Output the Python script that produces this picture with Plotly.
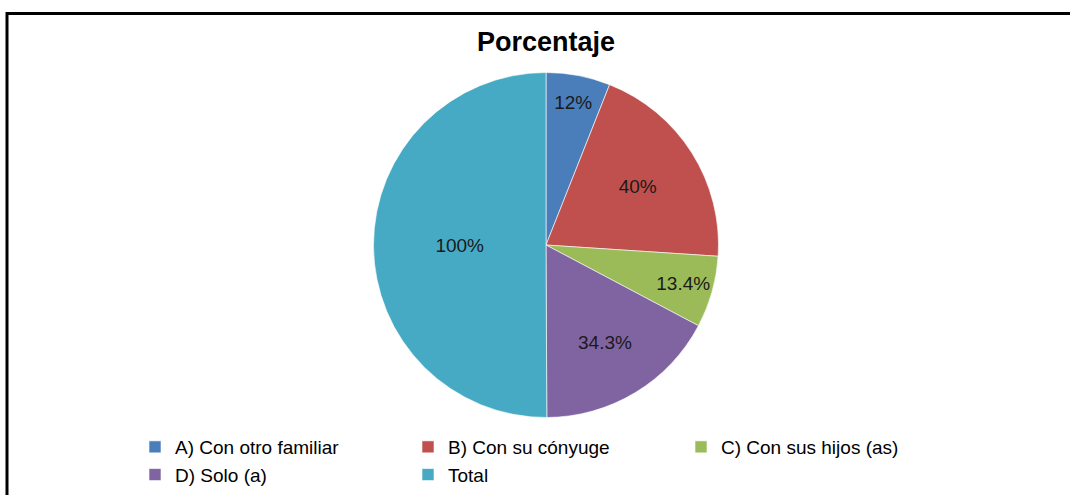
import plotly.graph_objects as go

labels = ["A) Con otro familiar", "B) Con su cónyuge", "C) Con sus hijos (as)", "D) Solo (a)", "Total"]
values = [12, 40, 13.4, 34.3, 100]
colors = ["#4A7EBB", "#C0504D", "#9BBB59", "#8064A2", "#46AAC5"]

W, H = 1070, 495
cx, cy, d = 546, 245, 345
FONT = "Liberation Sans, Arial, sans-serif"

fig = go.Figure(go.Pie(
    labels=labels,
    values=values,
    sort=False,
    direction="clockwise",
    rotation=0,
    marker=dict(colors=colors, line=dict(color="rgba(255,255,255,0.6)", width=1)),
    texttemplate="%{value}%",
    textposition="inside",
    insidetextorientation="horizontal",
    textfont=dict(family=FONT, size=19, color="#1a1a1a"),
    domain=dict(x=[(cx - d / 2) / W, (cx + d / 2) / W], y=[1 - (cy + d / 2) / H, 1 - (cy - d / 2) / H]),
    hoverinfo="label+value",
))

fig.update_layout(
    width=W, height=H,
    margin=dict(l=0, r=0, t=0, b=0),
    paper_bgcolor="white",
    plot_bgcolor="white",
    title=dict(text="<b>Porcentaje</b>", x=546 / W, xanchor="center", y=1 - 42 / H, yanchor="middle",
               font=dict(family=FONT, size=27, color="#000000")),
    legend=dict(orientation="h", x=135 / W, xanchor="left", y=1 - 428 / H, yanchor="top",
                font=dict(family=FONT, size=19, color="#000000"),
                entrywidth=228, entrywidthmode="pixels", traceorder="normal",
                bgcolor="rgba(0,0,0,0)"),
    shapes=[dict(type="rect", xref="paper", yref="paper",
                 x0=7 / W, x1=1.05, y0=-0.05, y1=1 - 13.5 / H,
                 line=dict(color="black", width=3), fillcolor="rgba(0,0,0,0)", layer="above")],
)

fig.write_html("out.html", config={"displayModeBar": False},
               post_script="document.body.style.margin='0';document.body.style.overflow='hidden';")
